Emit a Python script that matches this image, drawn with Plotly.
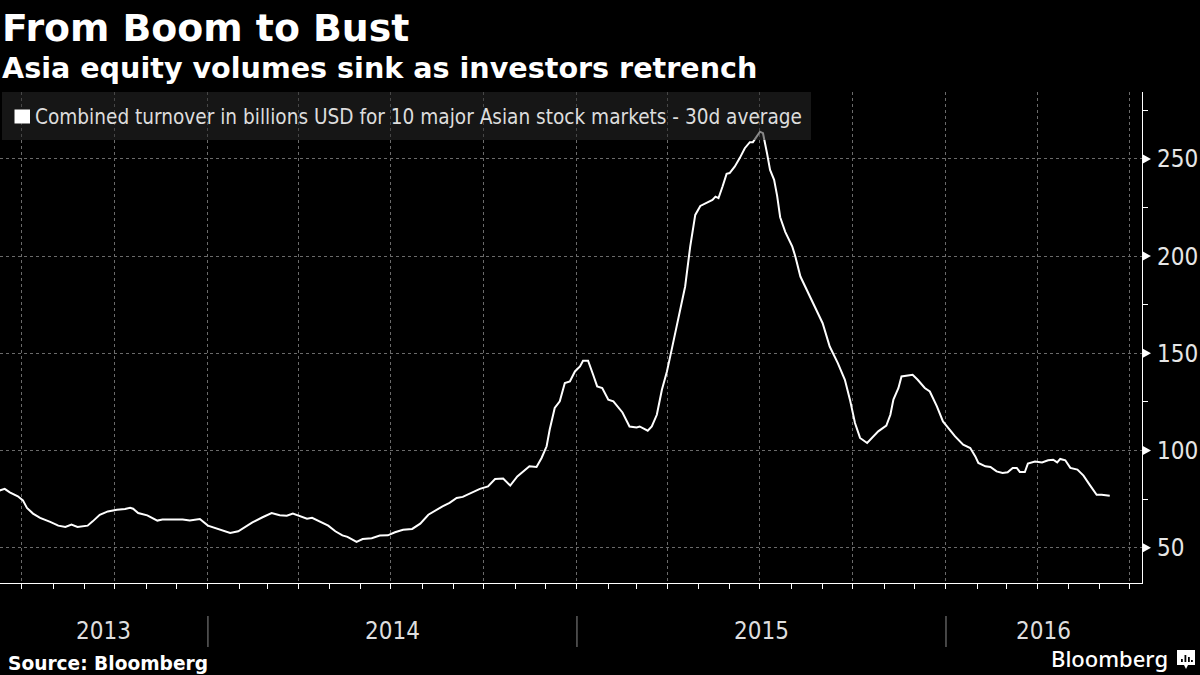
import pandas as pd
import plotly.graph_objects as go

# ---------------- data ----------------
title = "From Boom to Bust"
subtitle = "Asia equity volumes sink as investors retrench"
series_name = "Combined turnover in billions USD for 10 major Asian stock markets - 30d average"
source_text = "Source: Bloomberg"
brand_text = "Bloomberg"

dates = [
    "2013-06-09", "2013-06-14", "2013-06-19", "2013-06-27", "2013-07-02", "2013-07-06",
    "2013-07-12", "2013-07-19", "2013-07-29", "2013-08-06", "2013-08-13", "2013-08-19",
    "2013-08-25", "2013-09-04", "2013-09-09", "2013-09-16", "2013-09-24", "2013-10-03",
    "2013-10-11", "2013-10-16", "2013-10-19", "2013-10-24", "2013-11-02", "2013-11-12",
    "2013-11-17", "2013-11-27", "2013-12-07", "2013-12-14", "2013-12-24", "2014-01-01",
    "2014-01-10", "2014-01-18", "2014-01-23", "2014-01-31", "2014-02-07", "2014-02-14",
    "2014-02-24", "2014-03-05", "2014-03-13", "2014-03-20", "2014-03-26", "2014-04-02",
    "2014-04-09", "2014-04-14", "2014-04-22", "2014-04-30", "2014-05-07", "2014-05-14",
    "2014-05-19", "2014-05-28", "2014-06-03", "2014-06-12", "2014-06-20", "2014-06-28",
    "2014-07-05", "2014-07-13", "2014-07-22", "2014-07-30", "2014-08-07", "2014-08-14",
    "2014-08-21", "2014-08-28", "2014-09-04", "2014-09-10", "2014-09-19", "2014-09-27",
    "2014-10-05", "2014-10-12", "2014-10-20", "2014-10-27", "2014-11-03", "2014-11-09",
    "2014-11-15", "2014-11-22", "2014-11-27", "2014-12-02", "2014-12-05", "2014-12-10",
    "2014-12-15", "2014-12-20", "2014-12-25", "2014-12-30", "2015-01-04", "2015-01-07",
    "2015-01-12", "2015-01-17", "2015-01-21", "2015-01-26", "2015-02-01", "2015-02-06",
    "2015-02-13", "2015-02-15", "2015-02-22", "2015-03-01", "2015-03-04", "2015-03-12",
    "2015-03-16", "2015-03-21", "2015-03-26", "2015-03-31", "2015-04-05", "2015-04-13",
    "2015-04-18", "2015-04-23", "2015-04-28", "2015-05-03", "2015-05-10", "2015-05-15",
    "2015-05-18", "2015-05-21", "2015-05-25", "2015-05-29", "2015-06-01", "2015-06-06",
    "2015-06-11", "2015-06-16", "2015-06-21", "2015-06-24", "2015-07-01", "2015-07-04",
    "2015-07-08", "2015-07-11", "2015-07-15", "2015-07-18", "2015-07-21", "2015-07-26",
    "2015-08-02", "2015-08-05", "2015-08-10", "2015-08-17", "2015-08-22", "2015-08-27",
    "2015-09-01", "2015-09-08", "2015-09-16", "2015-09-23", "2015-09-28", "2015-10-03",
    "2015-10-08", "2015-10-15", "2015-10-20", "2015-10-26", "2015-11-03", "2015-11-07",
    "2015-11-10", "2015-11-15", "2015-11-18", "2015-11-23", "2015-11-29", "2015-12-04",
    "2015-12-11", "2015-12-16", "2015-12-23", "2015-12-29", "2016-01-03", "2016-01-10",
    "2016-01-18", "2016-01-25", "2016-01-30", "2016-02-02", "2016-02-09", "2016-02-14",
    "2016-02-20", "2016-02-26", "2016-03-02", "2016-03-07", "2016-03-11", "2016-03-14",
    "2016-03-19", "2016-03-22", "2016-03-29", "2016-04-05", "2016-04-11", "2016-04-16",
    "2016-04-20", "2016-04-23", "2016-04-28", "2016-05-03", "2016-05-10", "2016-05-16",
    "2016-05-22", "2016-05-29", "2016-06-03", "2016-06-06", "2016-06-11",
]

turnover = [
    79.5, 80.3, 78.5, 76.5, 74.4, 70.5,
    67.6, 65.4, 63.3, 61.4, 60.7, 61.9,
    60.7, 61.4, 63.6, 67.0, 68.7, 69.6,
    70.0, 70.6, 70.1, 67.9, 66.7, 64.0,
    64.5, 64.5, 64.5, 64.0, 64.8, 61.4,
    59.7, 58.5, 57.6, 58.5, 60.7, 63.1,
    65.7, 67.9, 66.7, 66.5, 67.6, 66.5,
    65.0, 65.4, 63.3, 61.4, 58.5, 56.4,
    55.6, 53.0, 54.5, 54.9, 56.3, 56.4,
    58.0, 59.3, 59.7, 62.4, 67.0, 69.3,
    71.3, 73.1, 75.6, 76.2, 78.2, 80.3,
    81.6, 85.4, 85.6, 82.0, 86.7, 89.3,
    91.9, 91.6, 96.2, 102.2, 110.7, 121.9,
    125.3, 134.7, 135.6, 140.7, 143.3, 146.2,
    146.2, 139.0, 133.0, 132.2, 126.2, 125.3,
    121.0, 119.6, 112.4, 111.9, 112.4, 110.2,
    112.4, 118.4, 131.3, 140.7, 152.7, 172.4,
    184.4, 204.9, 221.2, 225.8, 227.5, 228.9,
    230.6, 229.8, 235.8, 242.3, 242.7, 246.0,
    250.4, 255.5, 258.6, 258.6, 264.0, 263.2,
    252.9, 244.3, 239.2, 231.0, 220.0, 212.5,
    204.9, 199.8, 189.5, 181.8, 175.8, 170.7,
    165.5, 153.5, 145.0, 136.4, 126.2, 114.2,
    106.5, 103.9, 106.5, 109.9, 112.8, 118.4,
    126.2, 132.2, 138.1, 138.5, 139.0, 136.4,
    132.2, 130.4, 122.7, 115.0, 111.6, 107.3,
    103.0, 101.3, 97.0, 93.6, 91.9, 91.6,
    89.3, 88.5, 88.8, 91.1, 91.1, 89.0,
    89.0, 93.3, 94.4, 93.9, 95.0, 95.3,
    93.9, 95.7, 95.0, 91.1, 90.2, 87.1,
    82.5, 77.3, 77.3, 77.0, 76.8,
]

y_ticks = [50, 100, 150, 200, 250]
year_labels = ["2013", "2014", "2015", "2016"]
x_range = ["2013-06-09 08:00", "2016-07-12 21:00"]
y_range = [31.9, 284.4]

# ---------------- layout geometry ----------------
W, H = 1200, 675
L, R, T, B = 0, 58, 92, 92
plot_w = W - L - R
plot_h = H - T - B


def py(pix):
    return (H - B - pix) / plot_h


def px(pix):
    return (pix - L) / plot_w


AXIS_FONT = "DejaVu Sans Condensed, DejaVu Sans, sans-serif"
BOLD_FONT = "DejaVu Sans, sans-serif"
GRID = "#6a6a6a"

fig = go.Figure()
fig.add_trace(go.Scatter(
    x=dates, y=turnover, mode="lines", name=series_name,
    line=dict(color="white", width=2), showlegend=False, hoverinfo="skip",
))

shapes = []
annotations = []

# year separators and centred year labels
xs, xe = pd.Timestamp(x_range[0]), pd.Timestamp(x_range[1])
for lab in year_labels:
    ys = pd.Timestamp(f"{lab}-01-01")
    ye = pd.Timestamp(f"{int(lab) + 1}-01-01")
    a, b = max(ys, xs), min(ye, xe)
    mid = a + (b - a) / 2
    annotations.append(dict(
        x=mid, y=py(631), xref="x", yref="paper", text=lab, showarrow=False,
        xanchor="center", yanchor="middle",
        font=dict(family=AXIS_FONT, size=24, color="#dedede"),
    ))
    if ys > xs:
        shapes.append(dict(
            type="line", xref="x", yref="paper", x0=ys, x1=ys,
            y0=py(616), y1=py(647), line=dict(color="#8a8a8a", width=1),
        ))

# triangle markers at major y ticks
for v in y_ticks:
    shapes.append(dict(
        type="path", xref="paper", xsizemode="pixel", xanchor=1,
        yref="y", ysizemode="pixel", yanchor=v,
        path="M0,-5 L9,0 L0,5 Z", fillcolor="white",
        line=dict(width=0), layer="above",
    ))

# legend box (semi-transparent, above the line)
shapes.append(dict(
    type="rect", xref="paper", yref="paper",
    x0=px(2), x1=px(811), y0=py(140), y1=py(92),
    fillcolor="rgba(40,40,40,0.55)", line=dict(width=0), layer="above",
))
shapes.append(dict(
    type="rect", xref="paper", yref="paper",
    x0=px(14.5), x1=px(30), y0=py(123.5), y1=py(109.5),
    fillcolor="white", line=dict(width=0), layer="above",
))
annotations.append(dict(
    x=px(33), y=py(117), xref="paper", yref="paper", text=series_name,
    showarrow=False, xanchor="left", yanchor="middle",
    font=dict(family=AXIS_FONT, size=20.6, color="#dddddd"),
))

# titles
annotations.append(dict(
    x=px(0), y=py(28), xref="paper", yref="paper", text=title,
    showarrow=False, xanchor="left", yanchor="middle",
    font=dict(family=BOLD_FONT, size=37.8, color="white", weight="bold"),
))
annotations.append(dict(
    x=px(0), y=py(68), xref="paper", yref="paper", text=subtitle,
    showarrow=False, xanchor="left", yanchor="middle",
    font=dict(family=BOLD_FONT, size=28.6, color="white", weight="bold"),
))
annotations.append(dict(
    x=px(6), y=py(663), xref="paper", yref="paper", text=source_text,
    showarrow=False, xanchor="left", yanchor="middle",
    font=dict(family=BOLD_FONT, size=18.6, color="white", weight="bold"),
))
annotations.append(dict(
    x=px(1170), y=py(658), xref="paper", yref="paper", text=brand_text,
    showarrow=False, xanchor="right", yanchor="middle",
    font=dict(family="Noto Sans, sans-serif", size=22, color="white", weight=500),
))

# small Bloomberg icon
shapes.append(dict(
    type="path", xref="paper", yref="paper",
    path=(f"M{px(1177)},{py(650)} L{px(1195)},{py(650)} L{px(1195)},{py(665)} "
          f"L{px(1188)},{py(665)} L{px(1186)},{py(669)} L{px(1184)},{py(665)} "
          f"L{px(1177)},{py(665)} Z"),
    fillcolor="white", line=dict(width=0), layer="above",
))
for bx, btop in [(1181, 659), (1184.5, 655), (1188, 657), (1191, 660)]:
    shapes.append(dict(
        type="rect", xref="paper", yref="paper",
        x0=px(bx), x1=px(bx + 1.8), y0=py(662), y1=py(btop),
        fillcolor="black", line=dict(width=0), layer="above",
    ))

fig.update_layout(
    width=W, height=H,
    margin=dict(l=L, r=R, t=T, b=B, pad=0),
    paper_bgcolor="black", plot_bgcolor="black",
    showlegend=False,
    shapes=shapes, annotations=annotations,
    xaxis=dict(
        type="date", range=x_range,
        showline=True, linecolor="white", linewidth=1.3,
        showticklabels=False,
        tick0="2013-07-01", dtick="M3",
        ticks="outside", ticklen=5, tickcolor="white", tickwidth=1,
        showgrid=True, gridcolor=GRID, griddash="dot", gridwidth=1,
        minor=dict(dtick="M1", tick0="2013-07-01", ticks="outside",
                   ticklen=5, tickcolor="white", tickwidth=1, showgrid=False),
        zeroline=False, fixedrange=True,
    ),
    yaxis=dict(
        side="right", range=y_range,
        showline=True, linecolor="white", linewidth=1.3,
        tickvals=y_ticks, ticktext=[str(v) for v in y_ticks],
        ticks="outside", ticklen=9, tickcolor="rgba(0,0,0,0)",
        tickfont=dict(family=AXIS_FONT, size=24, color="#e6e6e6"),
        showgrid=True, gridcolor=GRID, griddash="dot", gridwidth=1,
        minor=dict(dtick=25, tick0=0, ticks="outside", ticklen=5,
                   tickcolor="white", tickwidth=1, showgrid=False),
        zeroline=False, fixedrange=True,
    ),
)

fig.write_html(
    "out.html",
    config={"displayModeBar": False},
    post_script="document.body.style.margin='0';document.body.style.background='black';",
)
